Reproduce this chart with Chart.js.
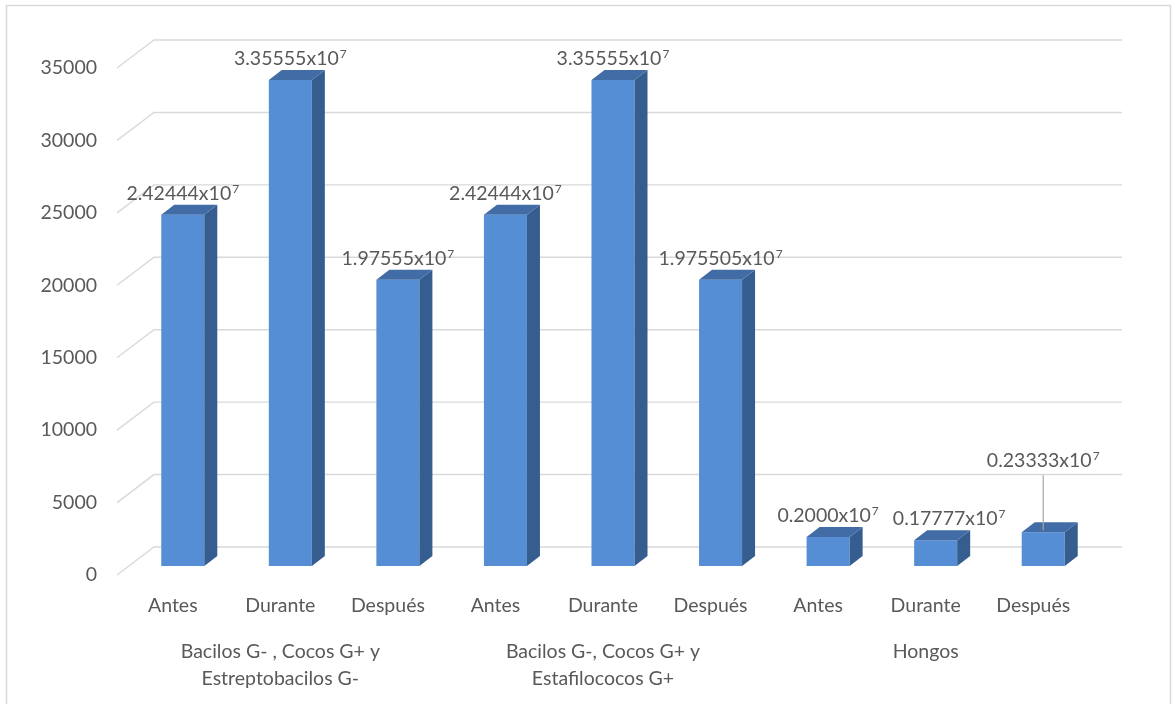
<!DOCTYPE html>
<html>
<head>
<meta charset="utf-8">
<script src="https://cdn.jsdelivr.net/npm/chart.js@4.4.1/dist/chart.umd.min.js"></script>
<style>
  html, body { margin: 0; padding: 0; background: #fff; }
  #marco { width: 1173px; height: 704px; position: relative; }
</style>
</head>
<body>
<div id="marco"><canvas id="barras"></canvas></div>
<script>
// momentos de muestreo por grupo de microorganismos
const momentos = ['Antes', 'Durante', 'Después', 'Antes', 'Durante', 'Después', 'Antes', 'Durante', 'Después'];
const grupos = [
  ['Bacilos G- , Cocos G+ y', 'Estreptobacilos G-'],
  ['Bacilos G-, Cocos G+ y', 'Estafilococos G+'],
  'Hongos'
];
// recuento (eje en unidades de 10^3)
const valores = [24244.4, 33555.5, 19755.5, 24244.4, 33555.5, 19755.05, 2000, 1777.7, 2333.3];
// mantisas de las etiquetas "x10^7"
const mantisas = ['2.42444', '3.35555', '1.97555', '2.42444', '3.35555', '1.975505', '0.2000', '0.17777', '0.23333'];
const marcasY = [0, 5000, 10000, 15000, 20000, 25000, 30000, 35000];

const FUENTE = 'Lato, "Open Sans", sans-serif';
const GRIS_TEXTO = '#595959';
const TAM = 19.5;

// profundidad de cada barra y de las paredes respecto al plano de las barras
const BARRA = { dx: 13, dy: -10 };
const PARED = { dx: 25, dy: -19 };
const FRENTE = { dx: -12, dy: 9 };

const pared3d = {
  id: 'pared3d',
  beforeDatasetsDraw(chart) {
    const { ctx, chartArea: a, scales: { y } } = chart;
    ctx.save();
    ctx.strokeStyle = '#d9d9d9';
    ctx.lineWidth = 1.4;
    marcasY.forEach(v => {
      const py = y.getPixelForValue(v);
      ctx.beginPath();
      ctx.moveTo(a.left + FRENTE.dx, py + FRENTE.dy);
      ctx.lineTo(a.left + PARED.dx, py + PARED.dy);
      ctx.lineTo(a.right + PARED.dx, py + PARED.dy);
      ctx.stroke();
    });
    ctx.restore();
  }
};

function anchoPotencia(ctx, mantisa) {
  ctx.font = TAM + 'px ' + FUENTE;
  const w1 = ctx.measureText(mantisa + 'x10').width;
  ctx.font = '12px ' + FUENTE;
  return { w1, total: w1 + 1 + ctx.measureText('7').width };
}

function etiquetaPotencia(ctx, mantisa, x0, base, w1) {
  ctx.textAlign = 'left';
  ctx.textBaseline = 'alphabetic';
  ctx.font = TAM + 'px ' + FUENTE;
  ctx.fillText(mantisa + 'x10', x0, base);
  ctx.font = '12px ' + FUENTE;
  ctx.fillText('7', x0 + w1 + 1, base - 7);
}

const barras3d = {
  id: 'barras3d',
  afterDatasetsDraw(chart) {
    const { ctx } = chart;
    const meta = chart.getDatasetMeta(0);
    let finAnterior = -Infinity, baseAnterior = 0;
    ctx.save();
    meta.data.forEach((bar, i) => {
      const l = bar.x - bar.width / 2, r = bar.x + bar.width / 2;
      const t = bar.y, b = bar.base;
      // cara lateral
      ctx.fillStyle = '#355d8f';
      ctx.beginPath();
      ctx.moveTo(r, t);
      ctx.lineTo(r + BARRA.dx, t + BARRA.dy);
      ctx.lineTo(r + BARRA.dx, b + BARRA.dy);
      ctx.lineTo(r, b);
      ctx.closePath();
      ctx.fill();
      // cara superior
      ctx.fillStyle = '#416ca6';
      ctx.beginPath();
      ctx.moveTo(l, t);
      ctx.lineTo(l + BARRA.dx, t + BARRA.dy);
      ctx.lineTo(r + BARRA.dx, t + BARRA.dy);
      ctx.lineTo(r, t);
      ctx.closePath();
      ctx.fill();

      // etiqueta; la última va elevada con línea guía
      let base = t + BARRA.dy - 5;
      if (i === meta.data.length - 1) {
        base -= 50;
        ctx.strokeStyle = '#a6a6a6';
        ctx.lineWidth = 1.2;
        ctx.beginPath();
        ctx.moveTo(bar.x, base + 8);
        ctx.lineTo(bar.x, t - 2);
        ctx.stroke();
      }
      const { w1, total } = anchoPotencia(ctx, mantisas[i]);
      let x0 = bar.x - total / 2;
      // separar etiquetas contiguas que se tocan
      if (Math.abs(base - baseAnterior) < 20 && x0 < finAnterior + 14) x0 = finAnterior + 14;
      ctx.fillStyle = GRIS_TEXTO;
      etiquetaPotencia(ctx, mantisas[i], x0, base, w1);
      finAnterior = x0 + total;
      baseAnterior = base;
    });
    ctx.restore();
  },
  afterDraw(chart) {
    const { ctx } = chart;
    ctx.save();
    ctx.strokeStyle = '#d9d9d9';
    ctx.lineWidth = 1.5;
    ctx.strokeRect(6.5, 5.5, 1164, 720);
    ctx.restore();
  }
};

new Chart(document.getElementById('barras'), {
  type: 'bar',
  data: {
    labels: momentos,
    datasets: [{
      data: valores,
      backgroundColor: '#558ed5',
      borderWidth: 0,
      categoryPercentage: 1,
      barPercentage: 0.4,
      xAxisID: 'x'
    }]
  },
  options: {
    responsive: true,
    maintainAspectRatio: false,
    animation: false,
    layout: { padding: { top: 59, right: 76, left: 0, bottom: 0 } },
    plugins: {
      legend: { display: false },
      tooltip: { enabled: false }
    },
    scales: {
      y: {
        min: 0,
        max: 35000,
        afterBuildTicks(s) { s.ticks = marcasY.map(v => ({ value: v })); },
        ticks: {
          padding: 32,
          labelOffset: 9,
          color: GRIS_TEXTO,
          font: { family: FUENTE, size: TAM },
          callback: v => String(v)
        },
        grid: { display: false, drawTicks: false },
        border: { display: false },
        afterFit(s) { s.width = 129; }
      },
      x: {
        weight: 0,
        ticks: {
          padding: 28,
          labelOffset: -10,
          color: GRIS_TEXTO,
          font: { family: FUENTE, size: TAM }
        },
        grid: { display: false, drawTicks: false },
        border: { display: false },
        afterFit(s) { s.height = 56; }
      },
      grupo: {
        type: 'category',
        position: 'bottom',
        weight: 1,
        labels: grupos,
        offset: true,
        ticks: {
          padding: 16,
          labelOffset: -10,
          color: GRIS_TEXTO,
          font: { family: FUENTE, size: TAM, lineHeight: 1.38 }
        },
        grid: { display: false, drawTicks: false },
        border: { display: false },
        afterFit(s) { s.height = 704 - 566 - 56; }
      }
    }
  },
  plugins: [pared3d, barras3d]
});
</script>
</body>
</html>
